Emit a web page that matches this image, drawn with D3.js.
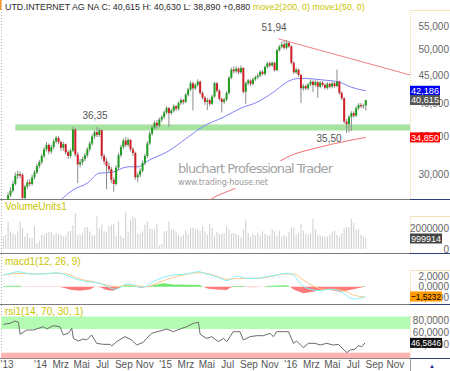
<!DOCTYPE html>
<html>
<head>
<meta charset="utf-8">
<script src="https://cdn.jsdelivr.net/npm/d3@7"></script>
<style>
  body { margin: 0; background: #fff; }
  svg { display: block; font-family: "Liberation Sans", Arial, sans-serif; }
</style>
</head>
<body>
<svg id="chart" width="450" height="371"></svg>
<script>
// weekly candles [open, high, low, close], first week starts 16.09.2013
const candles = [
  [26.2,26.9,25.9,26.5],[26.5,27.0,26.2,26.8],[26.8,27.8,26.6,27.5],[27.5,28.4,27.3,28.0],[28.0,29.2,27.8,28.8],
  [28.8,30.2,28.6,29.8],[29.8,30.4,29.4,30.0],[30.0,30.3,29.5,29.8],[29.9,30.1,26.9,27.2],[27.2,28.7,27.0,28.5],
  [28.5,29.3,28.2,29.0],[29.0,29.4,28.5,28.8],[28.8,29.9,28.6,29.6],[29.6,30.5,29.3,30.2],[30.2,31.3,30.0,31.0],
  [31.0,31.8,30.7,31.5],[31.5,32.6,31.2,32.3],[32.3,33.5,32.0,33.2],[33.2,34.2,32.9,33.8],[33.8,34.0,32.5,32.9],
  [32.9,33.8,32.6,33.5],[33.5,34.6,33.2,34.3],[34.3,35.1,34.0,34.8],[34.8,35.0,33.9,34.2],[34.2,34.4,33.0,33.4],
  [33.4,34.2,33.0,33.9],[33.9,34.0,32.5,32.8],[32.8,33.1,31.9,32.3],[32.3,33.3,32.0,33.0],[33.0,36.4,32.8,36.0],
  [36.0,36.2,32.2,32.5],[32.5,32.8,28.9,31.2],[31.2,31.9,30.8,31.5],[31.5,32.2,31.1,31.9],[31.9,32.7,31.6,32.4],
  [32.4,33.5,32.1,33.2],[33.2,34.3,32.9,34.0],[34.0,35.3,33.7,35.0],[35.0,35.9,34.6,35.6],[35.6,36.35,34.9,35.2],
  [35.2,36.2,34.9,35.9],[35.9,36.0,31.9,32.3],[32.3,32.6,31.2,31.6],[31.6,32.0,28.2,31.0],[31.0,31.4,30.2,30.6],
  [30.6,30.9,28.9,29.3],[29.3,29.6,27.9,28.8],[28.8,31.1,28.6,30.8],[30.8,32.7,30.5,32.4],[32.4,33.8,32.1,33.5],
  [33.5,34.7,33.2,34.4],[34.4,34.9,33.5,33.8],[33.8,34.8,33.5,34.5],[34.5,34.6,32.9,33.2],[33.2,33.5,32.3,32.7],
  [32.7,32.9,29.3,29.6],[29.6,30.2,29.0,29.9],[29.9,30.7,29.6,30.4],[30.4,31.7,30.2,31.4],[31.4,32.6,31.1,32.3],
  [32.3,34.3,32.0,34.0],[34.0,35.7,33.8,35.4],[35.4,36.6,35.1,36.3],[36.3,37.3,36.0,37.0],[37.0,37.4,36.1,36.6],
  [36.6,37.8,36.3,37.5],[37.5,38.2,37.1,37.9],[37.9,38.9,37.6,38.6],[38.6,39.6,38.3,39.3],[39.3,39.5,36.4,38.5],
  [38.5,39.2,38.2,38.9],[38.9,39.9,38.6,39.6],[39.6,39.8,38.8,39.2],[39.2,40.4,38.9,40.1],[40.1,40.9,39.8,40.6],
  [40.6,40.8,39.9,40.3],[40.3,41.8,40.1,41.5],[41.5,42.7,41.2,42.4],[42.4,43.9,42.1,43.5],[43.5,43.8,38.9,42.6],
  [42.6,43.5,42.3,43.2],[43.2,44.2,42.9,43.8],[43.8,44.0,41.5,41.8],[41.8,42.1,40.7,41.0],[41.0,41.3,39.8,40.3],
  [40.3,41.0,39.0,40.6],[40.6,40.9,39.6,40.0],[40.0,41.5,39.8,41.2],[41.2,43.8,41.0,43.5],[43.5,43.7,41.9,42.2],
  [42.2,42.5,40.5,40.8],[40.8,41.0,38.6,40.3],[40.3,41.0,39.9,40.7],[40.7,42.1,40.4,41.8],[41.8,44.8,41.5,44.5],
  [44.5,46.4,44.2,46.0],[46.0,46.6,45.3,45.7],[45.7,46.6,45.4,46.2],[46.2,46.4,45.1,45.5],[45.5,46.8,45.2,46.3],
  [46.3,46.5,41.7,42.0],[42.0,43.8,40.0,43.5],[43.5,44.3,43.1,44.0],[44.0,44.2,43.0,43.4],[43.4,44.5,43.1,44.2],
  [44.2,44.9,43.9,44.6],[44.6,45.3,44.3,44.9],[44.9,45.9,44.6,45.6],[45.6,45.9,44.9,45.2],[45.2,46.8,44.9,46.5],
  [46.5,47.5,46.2,47.2],[47.2,47.5,46.4,46.8],[46.8,47.6,46.5,47.3],[47.3,47.5,45.6,45.9],[45.9,50.1,45.7,49.8],
  [49.8,50.9,49.5,50.5],[50.5,51.6,50.2,51.0],[51.0,51.8,50.0,50.3],[50.3,51.94,50.0,51.3],[51.3,51.6,50.3,50.6],
  [50.6,50.8,47.0,47.3],[47.3,47.6,45.2,45.5],[45.5,46.4,45.2,46.0],[46.0,46.2,44.7,45.0],[45.0,45.2,40.1,42.6],
  [42.6,43.4,42.2,43.0],[43.0,43.3,42.3,42.6],[42.6,43.6,42.3,43.3],[43.3,44.2,43.0,43.8],[43.8,44.0,42.0,43.2],
  [43.2,44.1,42.9,43.7],[43.7,44.0,41.0,42.9],[42.9,43.9,42.6,43.6],[43.6,43.9,42.9,43.2],[43.2,43.5,42.4,42.7],
  [42.7,43.7,42.4,43.4],[43.4,43.6,42.6,42.9],[42.9,43.8,42.6,43.5],[43.5,43.7,42.7,43.0],[43.0,46.0,42.8,43.8],
  [43.8,44.0,41.5,41.8],[41.8,42.1,40.6,40.9],[40.9,41.1,36.9,37.2],[37.2,37.6,35.5,36.8],[36.8,38.2,35.6,37.9],
  [37.9,38.8,35.8,38.5],[38.5,38.8,37.8,38.1],[38.1,39.6,37.9,39.3],[39.3,40.1,39.0,39.8],[39.8,40.1,39.3,39.6],
  [39.6,40.0,39.2,39.735],[39.735,40.63,38.89,40.615]
];

// weekly volume, millions
const volumes = [
  1.20,1.36,2.63,1.68,1.52,1.36,1.68,2.63,2.00,1.20,
  1.52,1.05,1.05,2.16,0.57,0.73,1.36,1.36,1.52,1.62,
  1.62,1.36,1.52,1.43,1.36,1.20,1.30,1.68,1.74,2.25,
  3.42,1.36,1.36,1.43,2.09,2.09,1.68,1.30,1.30,3.10,
  2.00,2.31,1.68,1.62,2.16,2.31,2.38,1.27,2.63,1.27,
  1.05,3.58,1.68,2.79,3.10,2.95,1.43,1.52,1.68,2.31,
  2.63,1.93,1.93,1.84,2.38,0.35,0.48,1.68,1.74,2.63,
  1.90,1.87,1.68,1.36,1.20,1.36,1.74,1.43,2.00,2.06,
  1.90,1.90,1.74,2.16,1.68,1.36,2.38,2.00,1.20,1.62,
  1.43,1.43,1.52,2.16,1.84,1.43,1.52,1.43,1.30,1.11,
  1.84,2.69,1.52,1.11,1.43,1.27,1.52,1.30,1.68,1.43,
  1.27,1.30,1.84,1.68,1.27,1.74,1.20,1.36,1.20,1.62,
  2.06,2.06,1.36,1.52,2.38,1.74,1.43,1.43,1.52,2.88,
  1.84,1.30,1.30,1.20,1.20,1.20,1.36,1.62,1.74,1.36,
  1.20,1.52,2.00,2.09,2.06,2.88,2.47,1.84,1.93,1.36,
  1.20,1.05
];

// [week index, value]
const ma50 = [[24,27.0],[29,28.1],[35,28.9],[40,30.1],[45,30.2],[52,30.9],[56,30.9],[61,31.8],[68,32.8],
  [77,34.9],[83,36.4],[92,37.9],[99,39.3],[106,40.3],[112,41.8],[120,44.1],[124,44.4],[133,44.1],
  [140,43.7],[145,42.8],[151,42.186]];
const ma200 = [[84,26.6],[87.4,27.2],[95.7,28.2],[106,29.8],[118.6,32.2],[132,33.5],[151,34.85]];
const trendLine = [[114.5,52.2],[169.5,45.0]];
const supportBand = { from: 5, lo: 35.85, hi: 36.75 };
const notes = [
  { i: 112.8, v: 51.94, text: "51,94", dy: -8.5 },
  { i: 38.2, v: 36.35, text: "36,35", dy: -8.5 },
  { i: 135.7, v: 35.5, text: "35,50", dy: 9.5 }
];

const macdLine = [[0,2.27],[2.8,2.6],[6.3,2.92],[8.4,2.72],[12.5,2.47],[16.7,2.47],[19.5,2.6],[22.2,2.72],
  [25,2.47],[27.8,1.94],[30.6,1.43],[34.7,0.98],[38.9,0.78],[43,0.13],[46.5,-0.51],[48.6,-0.19],[51.4,0.52],
  [54.2,0.32],[57,-0.12],[59.7,0.13],[62.5,0.98],[66.7,1.81],[70.8,2.27],[76.4,2.47],[81.3,2.92],[84.7,2.47],
  [88.9,1.94],[93.1,1.17],[97.2,2.07],[101.4,1.62],[105.6,1.62],[109.7,1.94],[113.9,2.27],[118.1,2.6],
  [120.9,2.27],[123.6,0.65],[127.8,-0.51],[132,-0.77],[136.1,-0.51],[138.9,-0.64],[141.7,-1.28],
  [145.8,-2.39],[148.6,-2.25],[150.7,-1.94]];
const signalLine = [[0,2.27],[7,2.6],[12.5,2.47],[20.8,2.6],[26.4,2.47],[32,1.43],[37.5,0.98],[43,0.32],
  [47.2,0.0],[51.4,0.32],[57,0.13],[59.7,0.0],[63.9,0.65],[69.5,1.62],[75,2.27],[82,2.72],[87.5,2.27],
  [93.1,1.43],[98.6,1.62],[104.2,1.62],[109.7,1.81],[116.7,2.47],[120.9,2.47],[125,1.3],[129.2,0.13],
  [133.4,-0.51],[137.5,-0.51],[141.7,-0.77],[145.8,-1.6],[150.7,-2.06]];
const macdHist = [[0,0.13],[7,0.19],[8.3,0],[9.7,-0.06],[23.6,-0.06],[25,-0.19],[28.5,-0.65],[32,-0.78],
  [36.1,-0.52],[38.2,0],[40.3,-0.13],[43,-0.65],[45.8,-0.78],[47.9,-0.32],[49.3,0],[51.4,0.26],[54.2,0.13],
  [55.6,-0.06],[57.7,-0.26],[59.7,0],[62.5,0.26],[66.7,0.65],[70.8,0.45],[76.4,0.39],[81.9,0.32],[83.3,0],
  [85.4,-0.39],[88.9,-0.52],[93.1,-0.65],[94.5,-0.19],[95.8,0.13],[100,0.13],[101.4,-0.06],[104.2,-0.13],
  [108.3,0],[109.7,0.13],[118.1,0.26],[119.5,0],[120.9,-0.52],[125,-1.29],[129.2,-0.97],[132,-0.65],
  [136.1,-0.65],[140.3,-0.97],[144.4,-0.65],[148.6,-0.19],[150.7,0.13]];

const rsiLine = [[0,77.9],[2.8,79.6],[4.9,83.5],[6.3,81.3],[7,61],[9.7,68.3],[12.5,68.3],[16.7,73.9],
  [18.1,70],[20.8,75.6],[23.6,73.9],[25,59.9],[27.1,62.7],[28.5,71.1],[29.2,54.2],[31.3,49.7],[33.3,53.1],
  [34.7,51.4],[36.8,59.9],[38.9,45.8],[41.7,44.1],[44.5,44.1],[45.2,41.3],[47.2,48.6],[50.7,57.1],
  [53.5,51.4],[55.6,43],[58.3,47.5],[59.7,54.2],[61.8,62.7],[65.3,66.6],[68.1,70],[70.8,65.5],[73.6,70],
  [76.4,73.9],[79.2,79.6],[81.3,81.3],[82,61],[84.7,54.2],[86.8,57.1],[89.6,48.6],[91.7,54.2],[93.1,48.6],
  [95.8,65.5],[98.6,65.5],[100,51.4],[102.8,57.1],[105.6,58.7],[108.3,58.7],[111.1,62.7],[112.5,57.1],
  [113.9,65.5],[116.7,65.5],[118.8,65.5],[120.9,45.8],[122.2,49.7],[125,38.5],[127.1,45.8],[129.9,45.8],
  [132,43],[134.7,45.8],[137.5,43],[139.6,44.1],[143.1,30.1],[144.5,34.6],[146.5,36.2],[147.9,41.9],
  [149.3,40.2],[150.7,46.58]];

const priceTicks = [30, 35, 40, 45, 50, 55];
const monthNames = ["Jan","Feb","Mrz","Apr","Mai","Jun","Jul","Aug","Sep","Okt","Nov","Dez"];

const de = d3.formatLocale({ decimal: ",", thousands: ".", grouping: [3], currency: ["", " €"] });
const f3 = de.format(".3f"), f4 = de.format(".4f");

const W = 450, plotR = 410;
const svg = d3.select("#chart");

// Scales
const weekStart = new Date(2013, 8, 16);
const weekDate = (i) => new Date(weekStart.getTime() + i * 7 * 864e5);
const x = d3.scaleTime().domain([new Date(2014, 0, 1), new Date(2016, 8, 1)]).range([40, 374]);
const xi = (i) => x(weekDate(i));
const yP = d3.scaleLog().domain([30, 55]).range([174, 26]);
const yV = d3.scaleLinear().domain([0, 2]).range([249, 228]);
const yM = d3.scaleLinear().domain([0, 2]).range([286.7, 276.4]);
const yR = d3.scaleLinear().domain([30, 70]).range([352.7, 329]);

const panels = [
  { top: 0, bottom: 199.5, colTop: 10 },
  { top: 200, bottom: 253.5, colTop: 216 },
  { top: 254, bottom: 304.5, colTop: 270 },
  { top: 305, bottom: 358.5, colTop: 316.5 }
];

const defs = svg.append("defs");
panels.forEach((p, k) => {
  defs.append("clipPath").attr("id", "clip" + k)
    .append("rect").attr("x", 0).attr("y", p.top).attr("width", plotR).attr("height", p.bottom - p.top);
});

// Panel frames: left dotted axis, right label column, separators
panels.forEach((p) => {
  svg.append("line").attr("x1", 1.5).attr("x2", 1.5).attr("y1", p.top).attr("y2", p.bottom)
    .attr("stroke", "#b0b0b0").attr("stroke-dasharray", "1,2");
  svg.append("line").attr("x1", plotR + 0.5).attr("x2", plotR + 0.5).attr("y1", p.colTop).attr("y2", p.bottom)
    .attr("stroke", "#efd9a0").attr("stroke-dasharray", "1,1");
  svg.append("line").attr("x1", plotR).attr("x2", W).attr("y1", p.colTop + 0.5).attr("y2", p.colTop + 0.5)
    .attr("stroke", "#f3e3b8");
  svg.append("line").attr("x1", 0).attr("x2", plotR).attr("y1", p.bottom).attr("y2", p.bottom)
    .attr("stroke", "#7a7a7a");
  svg.append("line").attr("x1", plotR).attr("x2", W).attr("y1", p.bottom).attr("y2", p.bottom)
    .attr("stroke", "#2b3f7a");
});
svg.append("rect").attr("x", 0).attr("y", 0).attr("width", 1.5).attr("height", 10).attr("fill", "#f29a2e");

// ---------- Main price panel ----------
const main = svg.append("g").attr("clip-path", "url(#clip0)");

main.append("rect")
  .attr("x", xi(supportBand.from)).attr("width", plotR - xi(supportBand.from))
  .attr("y", yP(supportBand.hi)).attr("height", yP(supportBand.lo) - yP(supportBand.hi))
  .attr("fill", "#a6e3a0");

main.append("path").datum(trendLine)
  .attr("d", d3.line().x(d => xi(d[0])).y(d => yP(d[1])))
  .attr("fill", "none").attr("stroke", "#f08080").attr("stroke-width", 1);

main.append("path").datum(ma200)
  .attr("d", d3.line().curve(d3.curveMonotoneX).x(d => xi(d[0])).y(d => yP(d[1])))
  .attr("fill", "none").attr("stroke", "#f07070").attr("stroke-width", 1);

// Watermark (opaque backing hides what runs beneath it)
const wm = svg.append("g");
wm.append("rect").attr("x", 176).attr("y", 161).attr("width", 160).attr("height", 15).attr("fill", "#fff");
wm.append("rect").attr("x", 176).attr("y", 176).attr("width", 94).attr("height", 12).attr("fill", "#fff");
wm.append("text").attr("x", 178).attr("y", 172.7)
  .attr("font-family", "DejaVu Sans, sans-serif").attr("font-size", 13).attr("fill", "#a4a4a4")
  .attr("textLength", 155).attr("lengthAdjust", "spacing")
  .text("bluchart Professional Trader");
wm.append("text").attr("x", 178).attr("y", 184.6)
  .attr("font-family", "DejaVu Sans, sans-serif").attr("font-size", 8).attr("fill", "#9a9a9a")
  .attr("textLength", 90).attr("lengthAdjust", "spacing")
  .text("www.trading-house.net");

const main2 = svg.append("g").attr("clip-path", "url(#clip0)");
main2.append("path").datum(ma50)
  .attr("d", d3.line().curve(d3.curveMonotoneX).x(d => xi(d[0])).y(d => yP(d[1])))
  .attr("fill", "none").attr("stroke", "#7f7ff5").attr("stroke-width", 1);

const cg = main2.append("g");
candles.forEach((c, i) => {
  const cx = xi(i);
  const [o, h, l, cl] = c;
  cg.append("line").attr("x1", cx).attr("x2", cx).attr("y1", yP(h)).attr("y2", yP(l))
    .attr("stroke", "#8c8c8c").attr("stroke-width", 1);
  const top = yP(Math.max(o, cl)), bot = yP(Math.min(o, cl));
  cg.append("rect").attr("x", cx - 1).attr("width", 2)
    .attr("y", top).attr("height", Math.max(1, bot - top))
    .attr("fill", cl >= o ? "#1e9c1e" : "#cf1f26");
});

notes.forEach((n) => {
  svg.append("text").attr("x", xi(n.i)).attr("y", yP(n.v) + n.dy)
    .attr("text-anchor", "middle").attr("font-size", 10).attr("fill", "#555")
    .text(n.text);
});

// Header
const hdr = svg.append("text").attr("x", 5).attr("y", 10).attr("font-size", 8.9);
hdr.append("tspan").attr("fill", "#2a2a2a").text("UTD.INTERNET AG NA C: 40,615 H: 40,630 L: 38,890 +0,880 ");
hdr.append("tspan").attr("fill", "#c9c400").text("move2(200, 0) move1(50, 0)");

// Right axis helper
function rightAxis(scale, ticks, fmt, dy) {
  const g = svg.append("g").attr("transform", `translate(${plotR},0)`)
    .call(d3.axisRight(scale).tickValues(ticks).tickFormat(fmt).tickSize(0));
  g.select(".domain").remove();
  g.selectAll("text").attr("x", 39).attr("text-anchor", "end").attr("dy", dy || "0.32em")
    .attr("fill", "#666").attr("font-size", 10).attr("font-family", "Liberation Sans, Arial, sans-serif");
  return g;
}
function valueTag(y, text, bg, fg, w) {
  const g = svg.append("g");
  g.append("rect").attr("x", plotR).attr("y", y - 5).attr("width", w).attr("height", 10).attr("fill", bg);
  g.append("text").attr("x", plotR + 1).attr("y", y).attr("dy", "0.35em")
    .attr("font-size", 9.5).attr("fill", fg)
    .attr("textLength", w - 2).attr("lengthAdjust", "spacingAndGlyphs").text(text);
}

rightAxis(yP, priceTicks, f3);
valueTag(yP(42.186), f3(42.186), "#0000f0", "#fff", 30);
valueTag(yP(40.615), f3(40.615), "#555", "#fff", 30);
valueTag(yP(34.85), f3(34.85), "#ff0000", "#fff", 30);

// ---------- Volume panel ----------
const vg = svg.append("g").attr("clip-path", "url(#clip1)");
volumes.forEach((v, i) => {
  vg.append("rect").attr("x", xi(i) - 0.5).attr("width", 1)
    .attr("y", yV(v)).attr("height", yV(0) - yV(v)).attr("fill", "#cdcdcd");
});
svg.append("text").attr("x", 5).attr("y", 210).attr("font-size", 10).attr("fill", "#c9c400").text("VolumeUnits1");
rightAxis(yV, [0, 2], (d) => d3.format("d")(d * 1e6));
valueTag(yV(0.999914), "999914", "#444", "#fff", 32);

// ---------- MACD panel ----------
const mg = svg.append("g").attr("clip-path", "url(#clip2)");
mg.append("path").datum(macdHist)
  .attr("d", d3.area().x(d => xi(d[0])).y0(yM(0)).y1(d => yM(Math.max(0, d[1]))))
  .attr("fill", "#6ee86e");
mg.append("path").datum(macdHist)
  .attr("d", d3.area().x(d => xi(d[0])).y0(yM(0)).y1(d => yM(Math.min(0, d[1]))))
  .attr("fill", "#ff7a7a");
mg.append("path").datum(signalLine)
  .attr("d", d3.line().curve(d3.curveMonotoneX).x(d => xi(d[0])).y(d => yM(d[1])))
  .attr("fill", "none").attr("stroke", "#ffc688").attr("stroke-width", 1);
mg.append("path").datum(macdLine)
  .attr("d", d3.line().curve(d3.curveMonotoneX).x(d => xi(d[0])).y(d => yM(d[1])))
  .attr("fill", "none").attr("stroke", "#7ff2f7").attr("stroke-width", 1);
svg.append("text").attr("x", 5).attr("y", 264.5).attr("font-size", 10).attr("fill", "#c9c400").text("macd1(12, 26, 9)");
rightAxis(yM, [-2, 0, 2], f4);
valueTag(296.5, f4(-1.5232), "#ff9a00", "#000", 32);

// ---------- RSI panel ----------
const rg = svg.append("g").attr("clip-path", "url(#clip3)");
rg.append("rect").attr("x", 1).attr("width", plotR - 1)
  .attr("y", 316.5).attr("height", yR(70) - 316.5).attr("fill", "#b4fcb4");
rg.append("rect").attr("x", 1).attr("width", plotR - 1)
  .attr("y", yR(30)).attr("height", 358.5 - yR(30)).attr("fill", "#ffb4b4");
rg.append("path").datum(rsiLine)
  .attr("d", d3.line().x(d => xi(d[0])).y(d => yR(d[1])))
  .attr("fill", "none").attr("stroke", "#6a6a6a").attr("stroke-width", 1);
svg.append("text").attr("x", 5).attr("y", 314.5).attr("font-size", 10).attr("fill", "#c9c400").text("rsi1(14, 70, 30, 1)");
rightAxis(yR, [40, 60, 80], f4, "0.05em");
valueTag(yR(46.5846), f4(46.5846), "#111", "#fff", 32);

// ---------- Time axis ----------
const tickDates = [new Date(2013, 8, 1)].concat(d3.timeMonth.every(2).range(new Date(2014, 0, 1), new Date(2016, 11, 1)));
const xa = svg.append("g").attr("transform", "translate(0,358.5)")
  .call(d3.axisBottom(x).tickValues(tickDates).tickSize(0).tickPadding(2.5)
    .tickFormat(d => (d.getMonth() === 0 || d.getFullYear() === 2013)
      ? "'" + String(d.getFullYear()).slice(2) : monthNames[d.getMonth()]));
xa.select(".domain").remove();
xa.selectAll("text").attr("fill", "#555").attr("font-size", 10).attr("font-family", "Liberation Sans, Arial, sans-serif");
// first year label sits flush against the left edge
xa.selectAll(".tick").filter(d => d.getFullYear() === 2013).select("text")
  .attr("text-anchor", "start").attr("x", d => -x(d));
svg.append("line").attr("x1", plotR + 0.5).attr("x2", plotR + 0.5).attr("y1", 358.5).attr("y2", 371).attr("stroke", "#999");
svg.append("text").attr("x", 429).attr("y", 368).attr("font-size", 6).attr("fill", "#1f2f8f").text("▲");
</script>
</body>
</html>
